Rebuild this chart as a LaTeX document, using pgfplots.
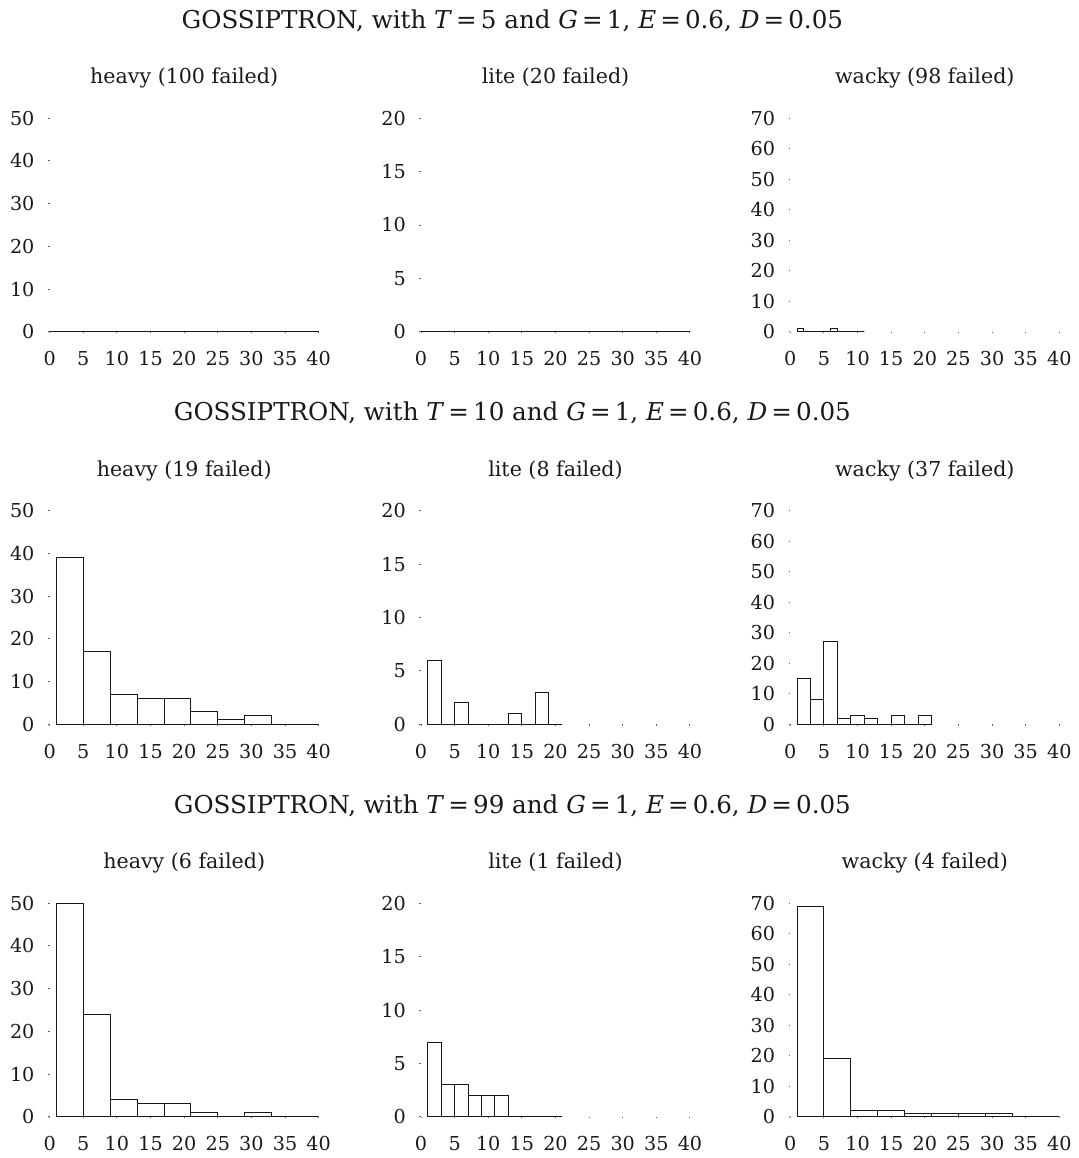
\documentclass[border=0pt]{standalone}
\usepackage{fontspec}
\setmainfont{DejaVu Serif}
\usepackage{pgfplots}
\pgfplotsset{compat=1.18}
\newcommand{\ticksize}{\fontsize{9.6}{11}\selectfont}
\newcommand{\subtitlesize}{\fontsize{10.3}{12}\selectfont}
\newcommand{\maintitlesize}{\fontsize{12.3}{15}\selectfont}
\pgfplotsset{
  hist/.style={
    scale only axis, width=134.5pt, height=106.7pt,
    xmin=0, xmax=40, ymin=0,
    axis lines*=left, axis line style={draw=none},
    xtick={0,5,...,40},
    tick style={black!60, line width=0.5pt},
    major tick length=0.8pt, tick align=outside,
    ticklabel style={font=\ticksize, text=black!90},
    /pgf/number format/assume math mode=true,
    yticklabel style={xshift=-3.3pt},
    xticklabel style={anchor=base, yshift=-16.2pt},
    clip=false,
    title style={font=\subtitlesize, text=black!90, at={(0.5,1)}, anchor=base, yshift=11.3pt},
    anchor=south west,
  },
  heavy/.style={hist, ymax=50, ytick={0,10,...,50}},
  lite/.style={hist, ymax=20, ytick={0,5,...,20}},
  wacky/.style={hist, ymax=70, ytick={0,10,...,70}},
  bars/.style={ybar interval, draw=black!90, fill=white, line width=0.5pt},
  baseline/.style={draw=black!90, line width=0.5pt},
}
\begin{document}
\begin{tikzpicture}
\useasboundingbox (0,0) rectangle (539.5pt,-579pt);
% main titles
\node[anchor=base, font=\maintitlesize, text=black!90] at (256.2pt,-14.15pt) {GOSSIPTRON, with \textit{T}\,=\,5 and \textit{G}\,=\,1, \textit{E}\,=\,0.6, \textit{D}\,=\,0.05};
\node[anchor=base, font=\maintitlesize, text=black!90] at (256.2pt,-210.4pt) {GOSSIPTRON, with \textit{T}\,=\,10 and \textit{G}\,=\,1, \textit{E}\,=\,0.6, \textit{D}\,=\,0.05};
\node[anchor=base, font=\maintitlesize, text=black!90] at (256.2pt,-406.6pt) {GOSSIPTRON, with \textit{T}\,=\,99 and \textit{G}\,=\,1, \textit{E}\,=\,0.6, \textit{D}\,=\,0.05};

% ---- Row 1: T = 5
\begin{axis}[heavy, at={(24.85pt,-165.85pt)}, title={heavy (100 failed)}]
\addplot[baseline] coordinates {(0,0) (40,0)};
\end{axis}
\begin{axis}[lite, at={(210.5pt,-165.85pt)}, title={lite (20 failed)}]
\addplot[baseline] coordinates {(0,0) (40,0)};
\end{axis}
\begin{axis}[wacky, at={(395.15pt,-165.85pt)}, title={wacky (98 failed)}]
\addplot[bars] coordinates {(1,1) (2,0) (3,0) (4,0) (5,0) (6,1) (7,0) (8,0) (9,0) (10,0) (11,0)};
\end{axis}

% ---- Row 2: T = 10
\begin{axis}[heavy, at={(24.85pt,-362.1pt)}, title={heavy (19 failed)}]
\addplot[bars] coordinates {(1,39) (5,17) (9,7) (13,6) (17,6) (21,3) (25,1) (29,2) (33,0) (37,0) (40,0)};
\end{axis}
\begin{axis}[lite, at={(210.5pt,-362.1pt)}, title={lite (8 failed)}]
\addplot[bars] coordinates {(1,6) (3,0) (5,2) (7,0) (9,0) (11,0) (13,1) (15,0) (17,3) (19,0) (21,0)};
\end{axis}
\begin{axis}[wacky, at={(395.15pt,-362.1pt)}, title={wacky (37 failed)}]
\addplot[bars] coordinates {(1,15) (3,8) (5,27) (7,2) (9,3) (11,2) (13,0) (15,3) (17,0) (19,3) (21,0)};
\end{axis}

% ---- Row 3: T = 99
\begin{axis}[heavy, at={(24.85pt,-558.35pt)}, title={heavy (6 failed)}]
\addplot[bars] coordinates {(1,50) (5,24) (9,4) (13,3) (17,3) (21,1) (25,0) (29,1) (33,0) (37,0) (40,0)};
\end{axis}
\begin{axis}[lite, at={(210.5pt,-558.35pt)}, title={lite (1 failed)}]
\addplot[bars] coordinates {(1,7) (3,3) (5,3) (7,2) (9,2) (11,2) (13,0) (15,0) (17,0) (19,0) (21,0)};
\end{axis}
\begin{axis}[wacky, at={(395.15pt,-558.35pt)}, title={wacky (4 failed)}]
\addplot[bars] coordinates {(1,69) (5,19) (9,2) (13,2) (17,1) (21,1) (25,1) (29,1) (33,0) (37,0) (40,0)};
\end{axis}
\end{tikzpicture}
\end{document}
